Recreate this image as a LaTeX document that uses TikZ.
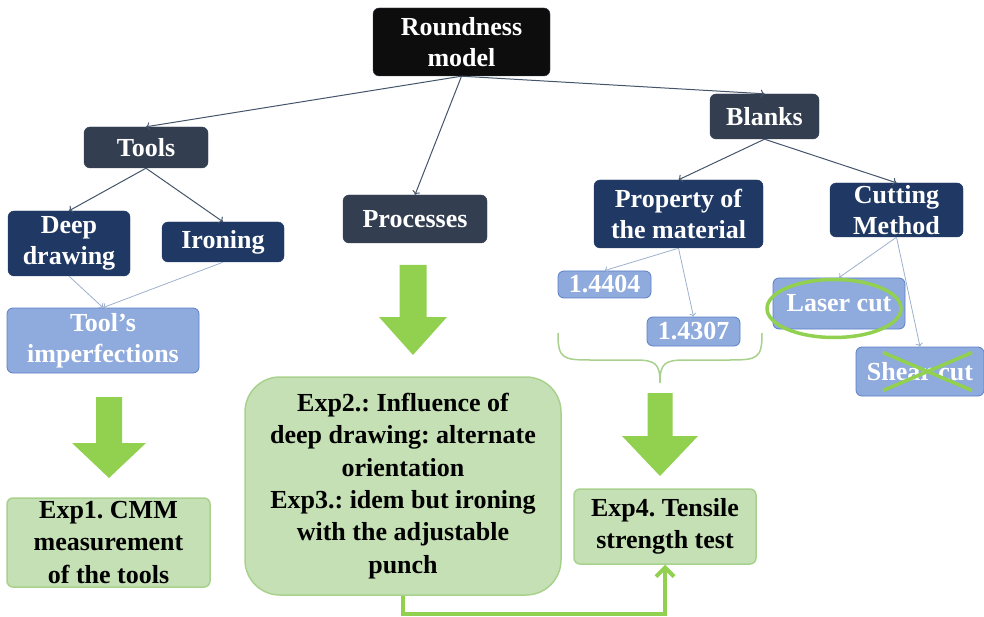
\documentclass[tikz,border=0pt]{standalone}
\usepackage{fontspec}
\setmainfont{Liberation Serif}
\usetikzlibrary{arrows.meta}
\frenchspacing

\definecolor{topblack}{HTML}{0D0D0D}
\definecolor{slate}{HTML}{333F50}
\definecolor{navy}{HTML}{203864}
\definecolor{paleblue}{HTML}{8FAADC}
\definecolor{paleblueline}{HTML}{5B7FC4}
\definecolor{leaf}{HTML}{92D050}
\definecolor{leafbox}{HTML}{C5E0B4}
\definecolor{leafline}{HTML}{A9D18E}
\definecolor{linkdark}{HTML}{44546A}
\definecolor{linklight}{HTML}{9DB0CC}

\tikzset{
  box/.style={rounded corners=6pt, align=center, inner sep=0pt,
    font=\fontsize{26}{31}\selectfont\bfseries},
  topbox/.style={box, fill=topblack, draw=slate, text=white},
  darkbox/.style={box, fill=slate, draw=slate, text=white},
  navybox/.style={box, fill=navy, draw=navy, text=white},
  lightbox/.style={box, fill=paleblue, draw=paleblueline, line width=0.8pt, text=white},
  expbox/.style={box, fill=leafbox, draw=leafline, line width=1.5pt, text=black,
    font=\fontsize{26}{32.4}\selectfont\bfseries},
  link/.style={->, draw=linkdark, line width=1pt},
  thinlink/.style={->, draw=linklight, line width=0.8pt},
  greenmark/.style={draw=leaf, line width=3.5pt},
}

\begin{document}
\begin{tikzpicture}[x=1pt,y=-1pt]
\useasboundingbox (0,0) rectangle (984,617);

% top of the tree
\node[topbox, minimum width=177, minimum height=68] (root) at (461.5,42) {Roundness\\model};
\node[darkbox, minimum width=124, minimum height=41] (tools) at (146,147.5) {Tools};
\node[darkbox, minimum width=144, minimum height=48] (proc) at (415,219) {Processes};
\node[darkbox, minimum width=109, minimum height=45] (blanks) at (764.5,116.5) {Blanks};

% second level
\node[navybox, minimum width=122, minimum height=65] (deep) at (69,243.5) {Deep\\drawing};
\node[navybox, minimum width=122, minimum height=40] (iron) at (223,242) {Ironing};
\node[navybox, minimum width=169, minimum height=68] (prop) at (678.5,214) {Property of\\the material};
\node[navybox, minimum width=133, minimum height=54] (cutm) at (896.5,210) {Cutting\\Method};

% leaves
\node[lightbox, minimum width=192, minimum height=65] (imp) at (103,340.5) {Tool’s\\imperfections};
\node[lightbox, minimum width=93, minimum height=27] (m4404) at (604.5,284.5) {1.4404};
\node[lightbox, minimum width=93, minimum height=29] (m4307) at (693.5,331.5) {1.4307};
\node[lightbox, minimum width=132, minimum height=51] (laser) at (839,303.5) {Laser cut};
\node[lightbox, minimum width=128, minimum height=49] (shear) at (920,371.5) {Shear cut};

% experiments
\node[expbox, minimum width=203, minimum height=89] (exp1) at (108.5,542.5) {Exp1. CMM\\measurement\\of the tools};
\node[expbox, rounded corners=35pt, minimum width=316, minimum height=218] (exp23) at (403,486)
  {Exp2.: Influence of\\deep drawing: alternate\\orientation\\Exp3.: idem but ironing\\with the adjustable\\punch};
\node[expbox, minimum width=182, minimum height=75] (exp4) at (665,526.5) {Exp4. Tensile\\strength test};

% connectors
\draw[link] (root.south) -- (tools.north);
\draw[link] (root.south) -- (proc.north);
\draw[link] (root.south) -- (blanks.north);
\draw[link] (tools.south) -- (deep.north);
\draw[link] (tools.south) -- (iron.north);
\draw[link] (blanks.south) -- (prop.north);
\draw[link] (blanks.south) -- (cutm.north);
\draw[thinlink] (deep.south) -- (imp.north);
\draw[thinlink] (iron.south) -- (imp.north);
\draw[thinlink] (prop.south) -- (m4404.north);
\draw[thinlink] (prop.south) -- (m4307.north);
\draw[thinlink] (cutm.south) -- (laser.north);
\draw[thinlink] (cutm.south) -- (shear.north);

% big green arrows
\foreach \ax/\ay/\by/\ty/\sw/\hw in {109/397/443/478/13/37, 413/265/317/355/13.5/34, 660/393/436/476/12.5/38}
  \fill[leaf] (\ax-\sw,\ay) -- (\ax+\sw,\ay) -- (\ax+\sw,\by) -- (\ax+\hw,\by) -- (\ax,\ty)
    -- (\ax-\hw,\by) -- (\ax-\sw,\by) -- cycle;

% brace under the two steels
\draw[leafline, line width=1.5pt] (558,333) .. controls (558,358) and (562,360) .. (590,360)
  -- (635,360) .. controls (656,360) and (660,364) .. (660,383)
  .. controls (660,364) and (664,360) .. (685,360) -- (730,360)
  .. controls (758,360) and (762,358) .. (762,333);

% marks on the cutting methods
\draw[greenmark] ([shift={(-5,5)}]laser.center) ellipse [x radius=67, y radius=29];
\draw[greenmark] ([shift={(-37,-19)}]shear.center) -- ([shift={(52,19)}]shear.center);
\draw[greenmark] ([shift={(-37,19)}]shear.center) -- ([shift={(52,-19)}]shear.center);

% from Exp2/3 to Exp4
\draw[leaf, line width=4pt, -{Straight Barb[length=9pt,width=18pt]}]
  (exp23.south) -- ++(0,18) -| (exp4.south);
\end{tikzpicture}
\end{document}
